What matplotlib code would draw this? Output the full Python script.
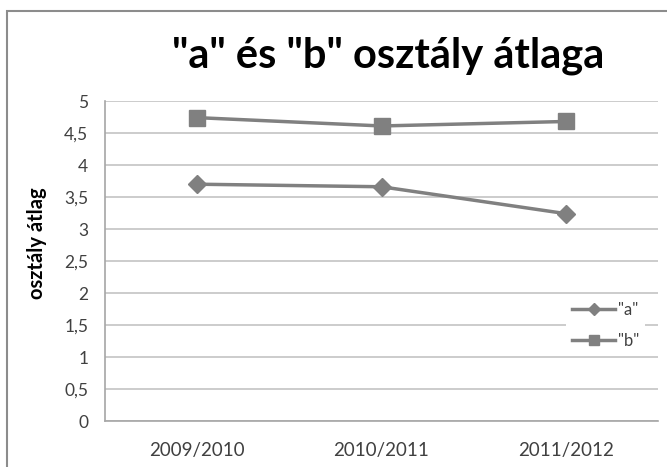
import matplotlib
matplotlib.use("Agg")
import matplotlib.pyplot as plt
from matplotlib.patches import Rectangle
from matplotlib.ticker import FuncFormatter

categories = ["2009/2010", "2010/2011", "2011/2012"]
series_a = [3.70, 3.66, 3.24]
series_b = [4.74, 4.61, 4.68]
yticks = [0, 0.5, 1, 1.5, 2, 2.5, 3, 3.5, 4, 4.5, 5]

plt.rcParams['font.family'] = ['Lato', 'DejaVu Sans']

W, H = 667, 467
fig = plt.figure(figsize=(W/100, H/100), dpi=100)

# outer chart frame (cropped at right/bottom)
fig.patches.append(Rectangle((7/W, -0.1), 2.0, (H-11)/H + 0.1, transform=fig.transFigure,
                             fill=False, edgecolor='#8c8c8c', linewidth=1.5))

L, R, T, B = 105, 658, 101, 421
ax = fig.add_axes([L/W, (H-B)/H, (R-L)/W, (B-T)/H])

x = [i + 0.5 for i in range(len(categories))]
col = '#808080'
la, = ax.plot(x, series_a, color=col, lw=2.5, marker='D', ms=9.5, zorder=3, label='"a"')
lb, = ax.plot(x, series_b, color=col, lw=2.5, marker='s', ms=11, zorder=3, label='"b"')

ax.set_xlim(0, len(categories))
ax.set_ylim(0, 5)
ax.set_yticks(yticks)
ax.yaxis.set_major_formatter(FuncFormatter(lambda v, p: ('%g' % v).replace('.', ',')))
ax.set_xticks(x)
ax.set_xticklabels(categories)
ax.grid(axis='y', color='#c4c4c4', lw=1.2)
ax.set_axisbelow(True)
for s in ['top', 'right']:
    ax.spines[s].set_visible(False)
for s in ['left', 'bottom']:
    ax.spines[s].set_color('#a6a6a6')
    ax.spines[s].set_linewidth(1.2)
ax.tick_params(axis='both', length=0, colors='#404040')
ax.tick_params(axis='y', labelsize=12.5, pad=12)
ax.tick_params(axis='x', labelsize=13.5, pad=15)

ax.set_ylabel('osztály átlag', fontsize=14.5, fontweight='bold', color='#000000')
ax.yaxis.set_label_coords(-0.105, 0.555)

fig.text(388/W, 1 - 56/H, '"a" és "b" osztály átlaga', fontsize=30, fontweight='bold',
         ha='center', va='center', color='#000000')

leg = ax.legend(loc='center', bbox_to_anchor=(0.905, 0.298), frameon=True, fancybox=False,
                edgecolor='none', facecolor='white', framealpha=1, fontsize=12,
                handlelength=2.6, handletextpad=0.15, labelspacing=0.9, borderpad=0.35,
                markerscale=0.65, labelcolor='#404040')
leg.set_zorder(5)

fig.savefig('out.png', dpi=100)
